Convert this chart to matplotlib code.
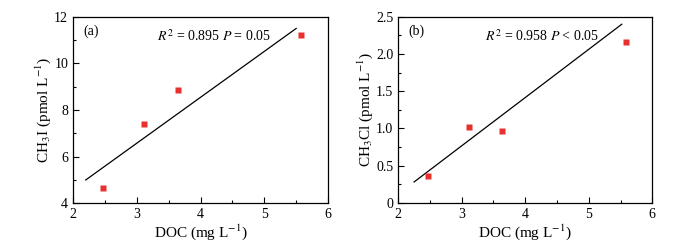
import matplotlib.pyplot as plt
from matplotlib.ticker import MultipleLocator

plt.rcParams["font.family"] = ["Liberation Serif", "DejaVu Serif"]
plt.rcParams["mathtext.fontset"] = "stix"

# DOC (mg L-1) for the four samples
doc = [2.47, 3.11, 3.64, 5.58]
ch3i = [4.65, 7.40, 8.87, 11.20]
ch3cl = [0.36, 1.02, 0.96, 2.16]

# regression line end points
fit_x_a = [2.20, 5.50]
fit_y_a = [5.00, 11.50]
fit_x_b = [2.25, 5.52]
fit_y_b = [0.28, 2.40]

panels = [
    {"pos": [0.105, 0.177, 0.367, 0.755], "y": ch3i, "fx": fit_x_a, "fy": fit_y_a,
     "ylim": (4, 12), "major": 2, "minor": 1, "label": "(a)",
     "stat": r"$R^2$ = 0.895 $P$ = 0.05", "stat_x": 0.33,
     "ylabel": r"CH$_3$I (pmol L$^{-1}$)", "fmt": None},
    {"pos": [0.573, 0.179, 0.3655, 0.753], "y": ch3cl, "fx": fit_x_b, "fy": fit_y_b,
     "ylim": (0, 2.5), "major": 0.5, "minor": 0.25, "label": "(b)",
     "stat": r"$R^2$ = 0.958 $P$ < 0.05", "stat_x": 0.34,
     "ylabel": r"CH$_3$Cl (pmol L$^{-1}$)", "fmt": "b"},
]

fig = plt.figure(figsize=(6.95, 2.47), dpi=100)

for p in panels:
    ax = fig.add_axes(p["pos"])
    ax.plot(p["fx"], p["fy"], color="black", lw=0.9)
    ax.plot(doc, p["y"], "s", color="#e8312f", ms=5, mec="none")
    ax.set_xlim(2, 6)
    ax.set_ylim(*p["ylim"])
    ax.xaxis.set_major_locator(MultipleLocator(1))
    ax.xaxis.set_minor_locator(MultipleLocator(0.5))
    ax.yaxis.set_major_locator(MultipleLocator(p["major"]))
    ax.yaxis.set_minor_locator(MultipleLocator(p["minor"]))
    if p["fmt"] == "b":
        ax.set_yticks([0, 0.5, 1.0, 1.5, 2.0, 2.5])
        ax.set_yticklabels(["0", "0.5", "1.0", "1.5", "2.0", "2.5"])
    ax.tick_params(which="both", direction="in", labelsize=10, colors="black")
    ax.tick_params(which="major", length=4, width=0.8)
    ax.tick_params(which="minor", length=2, width=0.8)
    for s in ax.spines.values():
        s.set_linewidth(0.9)
    ax.set_xlabel(r"DOC (mg L$^{-1}$)", fontsize=11, labelpad=1)
    ax.set_ylabel(p["ylabel"], fontsize=11, labelpad=1)
    ax.text(0.04, 0.92, p["label"], transform=ax.transAxes, fontsize=10, va="center")
    ax.text(p["stat_x"], 0.895, p["stat"], transform=ax.transAxes, fontsize=10, va="center")

fig.savefig("out.png", dpi=100)
